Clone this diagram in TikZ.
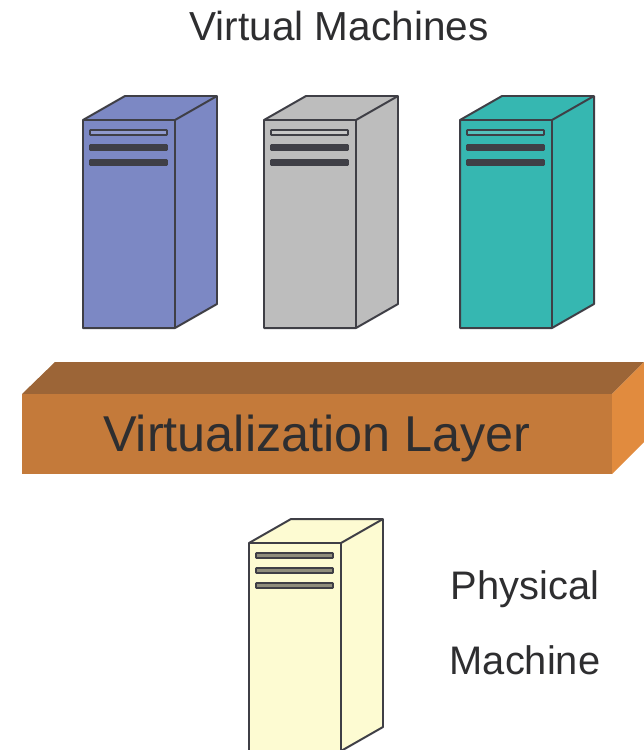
\documentclass[tikz,border=0pt]{standalone}
\usepackage{fontspec}
\setmainfont{Liberation Sans}
\usepackage{xcolor}
\usetikzlibrary{positioning}

\definecolor{vmblue}{HTML}{7C88C4}
\definecolor{vmgrey}{HTML}{BDBDBD}
\definecolor{vmteal}{HTML}{36B7B1}
\definecolor{pmyellow}{HTML}{FDFBD2}
\definecolor{pmslot}{HTML}{8F8D7C}
\definecolor{layerfront}{HTML}{C47A3A}
\definecolor{layertop}{HTML}{9C6537}
\definecolor{layerside}{HTML}{E18B3E}
\definecolor{linegrey}{HTML}{3F3F46}
\definecolor{textgrey}{HTML}{2E2E30}

% server at #1 (top left corner of the front face) filled with #2, slots with #3 and #4
\newcommand{\serverbox}[4]{
	\begin{scope}[shift={#1}]
		\path[face,fill=#2] (0,0) -- (42,-24) -- (134,-24) -- (134,184) -- (92,208) -- (0,208) -- cycle;
		\path[face] (0,0) -- (92,0) -- (92,208);
		\path[face] (92,0) -- (134,-24);
		\path[slot,fill=#3] (7,10) rectangle (84,15);
		\path[slot,fill=#4] (7,25) rectangle (84,30);
		\path[slot,fill=#4] (7,40) rectangle (84,45);
	\end{scope}
}

\begin{document}
\begin{tikzpicture}[x=0.03cm,y=-0.03cm]
	\tikzstyle{face}=[draw=linegrey,line width=1.7pt,line join=round]
	\tikzstyle{slot}=[draw=linegrey,line width=1.5pt,rounded corners=0.5pt]
	\tikzstyle{label}=[text=textgrey,inner sep=0pt]

	\useasboundingbox (0,0) rectangle (644,750);

	\serverbox{(83,120)}{vmblue}{vmblue!85!white}{linegrey}
	\serverbox{(264,120)}{vmgrey}{vmgrey!85!white}{linegrey}
	\serverbox{(460,120)}{vmteal}{vmteal!85!white}{linegrey}

	% layer
	\fill[layertop] (22,394) -- (55,362) -- (644,362) -- (612,394) -- cycle;
	\fill[layerside] (612,394) -- (644,362) -- (644,442) -- (612,474) -- cycle;
	\fill[layerfront] (22,394) rectangle (612,474);

	\serverbox{(249,543)}{pmyellow}{pmslot}{pmslot}

	\node [label] (vms) at (339,26) {\fontsize{34.6}{40}\selectfont Virtual Machines};
	\node [label] (layer) at (317,438) {\fontsize{43}{50}\selectfont Virtualization Layer};
	\node [label] (physical) at (525,589) {\fontsize{34}{40}\selectfont Physical};
	\node [label] (machine) at (525,660) {\fontsize{34}{40}\selectfont Machine};

\end{tikzpicture}
\end{document}
